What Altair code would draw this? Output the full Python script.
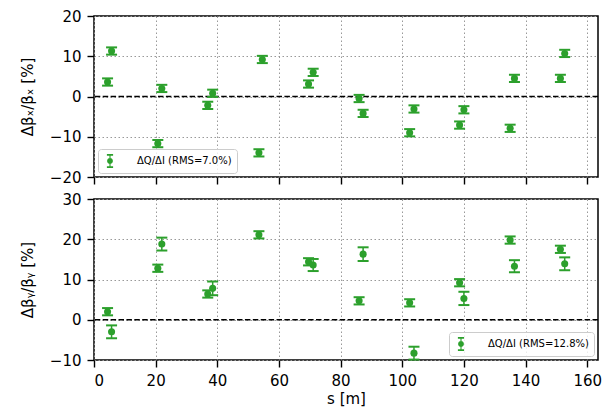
import altair as alt
import pandas as pd

GREEN = "#2ca02c"

# positions along the line [m]
s_x = [4.4, 5.7, 20.7, 22.0, 36.9, 38.5, 53.5, 54.6, 69.6, 71.1,
       86.0, 87.3, 102.4, 103.8, 118.6, 120.0, 135.0, 136.4, 151.3, 152.7]
dbx = [3.6, 11.3, -11.7, 2.0, -2.2, 0.8, -14.0, 9.2, 3.1, 6.0,
       -0.5, -4.2, -9.0, -3.1, -7.1, -3.3, -7.9, 4.5, 4.5, 10.7]
dbx_err = [0.9, 0.9, 0.9, 0.9, 0.9, 0.9, 0.9, 0.9, 0.9, 0.9,
           0.9, 0.9, 0.9, 0.9, 0.9, 0.9, 0.9, 0.9, 0.9, 0.9]

s_y = [4.4, 5.7, 20.7, 22.0, 36.9, 38.5, 53.5, 69.6, 71.1,
       86.0, 87.3, 102.4, 103.8, 118.6, 120.0, 135.0, 136.4, 151.3, 152.7]
dby = [2.0, -3.0, 12.8, 18.8, 6.4, 7.8, 21.1, 14.4, 13.6,
       4.7, 16.3, 4.2, -8.3, 9.2, 5.3, 19.8, 13.3, 17.5, 13.9]
dby_err = [0.9, 1.6, 0.9, 1.6, 0.9, 1.7, 0.9, 0.9, 1.5,
           0.9, 1.7, 0.9, 1.6, 0.9, 1.65, 0.9, 1.5, 0.9, 1.6]

x_ticks = [0, 20, 40, 60, 80, 100, 120, 140, 160]
x_domain = [0, 163.5]
yx_ticks = [-20, -10, 0, 10, 20]
yx_domain = [-20, 20]
yy_ticks = [-10, 0, 10, 20, 30]
yy_domain = [-10, 30]

label_x = "ΔQ/ΔI (RMS=7.0%)"
label_y = "ΔQ/ΔI (RMS=12.8%)"

LEGEND_SYMBOL = ("M-0.45,-1H0.45V-0.75H-0.45Z"
                 "M-0.45,0.75H0.45V1H-0.45Z"
                 "M-0.08,-0.8H0.08V0.8H-0.08Z"
                 "M-0.42,0A0.42,0.42,0,1,1,0.42,0A0.42,0.42,0,1,1,-0.42,0Z")


def panel(s, v, e, label, ytitle, yticks, ydomain, legend_orient, show_x):
    df = pd.DataFrame({
        "s": s,
        "v": v,
        "lo": [a - b for a, b in zip(v, e)],
        "hi": [a + b for a, b in zip(v, e)],
        "label": [label] * len(s),
    })
    if show_x:
        xaxis = alt.Axis(values=x_ticks, title="s [m]", grid=True, titlePadding=3, labelPadding=6)
    else:
        xaxis = alt.Axis(values=x_ticks, labels=False, title=None, grid=True)
    x = alt.X("s:Q", scale=alt.Scale(domain=x_domain, nice=False, zero=False), axis=xaxis)

    def yenc(field):
        return alt.Y(field, type="quantitative",
                     scale=alt.Scale(domain=ydomain, nice=False, zero=False),
                     axis=alt.Axis(values=yticks, title=ytitle, grid=True,
                                   titlePadding=14, labelPadding=6))

    base = alt.Chart(df)
    bars = base.mark_rule(color=GREEN, strokeWidth=1.5).encode(x=x, y=yenc("lo"), y2="hi:Q")
    cap_lo = base.mark_tick(color=GREEN, orient="horizontal", size=11, thickness=2, opacity=1).encode(x=x, y=yenc("lo"))
    cap_hi = base.mark_tick(color=GREEN, orient="horizontal", size=11, thickness=2, opacity=1).encode(x=x, y=yenc("hi"))
    pts = base.mark_point(filled=True, size=50, opacity=1).encode(
        x=x, y=yenc("v"),
        color=alt.Color("label:N",
                        scale=alt.Scale(domain=[label], range=[GREEN]),
                        legend=alt.Legend(title=None, orient=legend_orient, offset=4,
                                          symbolType=LEGEND_SYMBOL, symbolSize=190,
                                          symbolStrokeWidth=0, labelFontSize=10,
                                          labelFont="DejaVu Sans", labelColor="black",
                                          labelOffset=20, padding=5,
                                          fillColor="rgba(255,255,255,0.8)",
                                          strokeColor="#cccccc", cornerRadius=3)))
    zero = alt.Chart(pd.DataFrame({"z": [0]})).mark_rule(
        color="black", strokeWidth=1.6, strokeDash=[5.5, 2.4]).encode(y=yenc("z"))
    return alt.layer(zero, bars, cap_lo, cap_hi, pts).properties(width=504, height=161)


top = panel(s_x, dbx, dbx_err, label_x, "Δβₓ/βₓ [%]", yx_ticks, yx_domain, "bottom-left", False)
bottom = panel(s_y, dby, dby_err, label_y, "Δβᵧ/βᵧ [%]", yy_ticks, yy_domain, "bottom-right", True)

chart = alt.vconcat(top, bottom, spacing=5).resolve_scale(
    color="independent").resolve_legend(color="independent").properties(
    padding={"left": 11, "top": 0, "right": 2, "bottom": 0}
).configure_view(
    stroke="black", strokeWidth=1.5
).configure_axis(
    labelFont="DejaVu Sans", labelFontSize=15, labelColor="black",
    titleFont="DejaVu Sans", titleFontSize=15, titleFontWeight="normal", titleColor="black",
    domain=False, tickColor="black", tickWidth=1.4, tickSize=7,
    gridColor="#999999", gridDash=[1.5, 2.5], gridWidth=1
)

chart.save("out.html", embed_options={"renderer": "svg", "actions": False})
